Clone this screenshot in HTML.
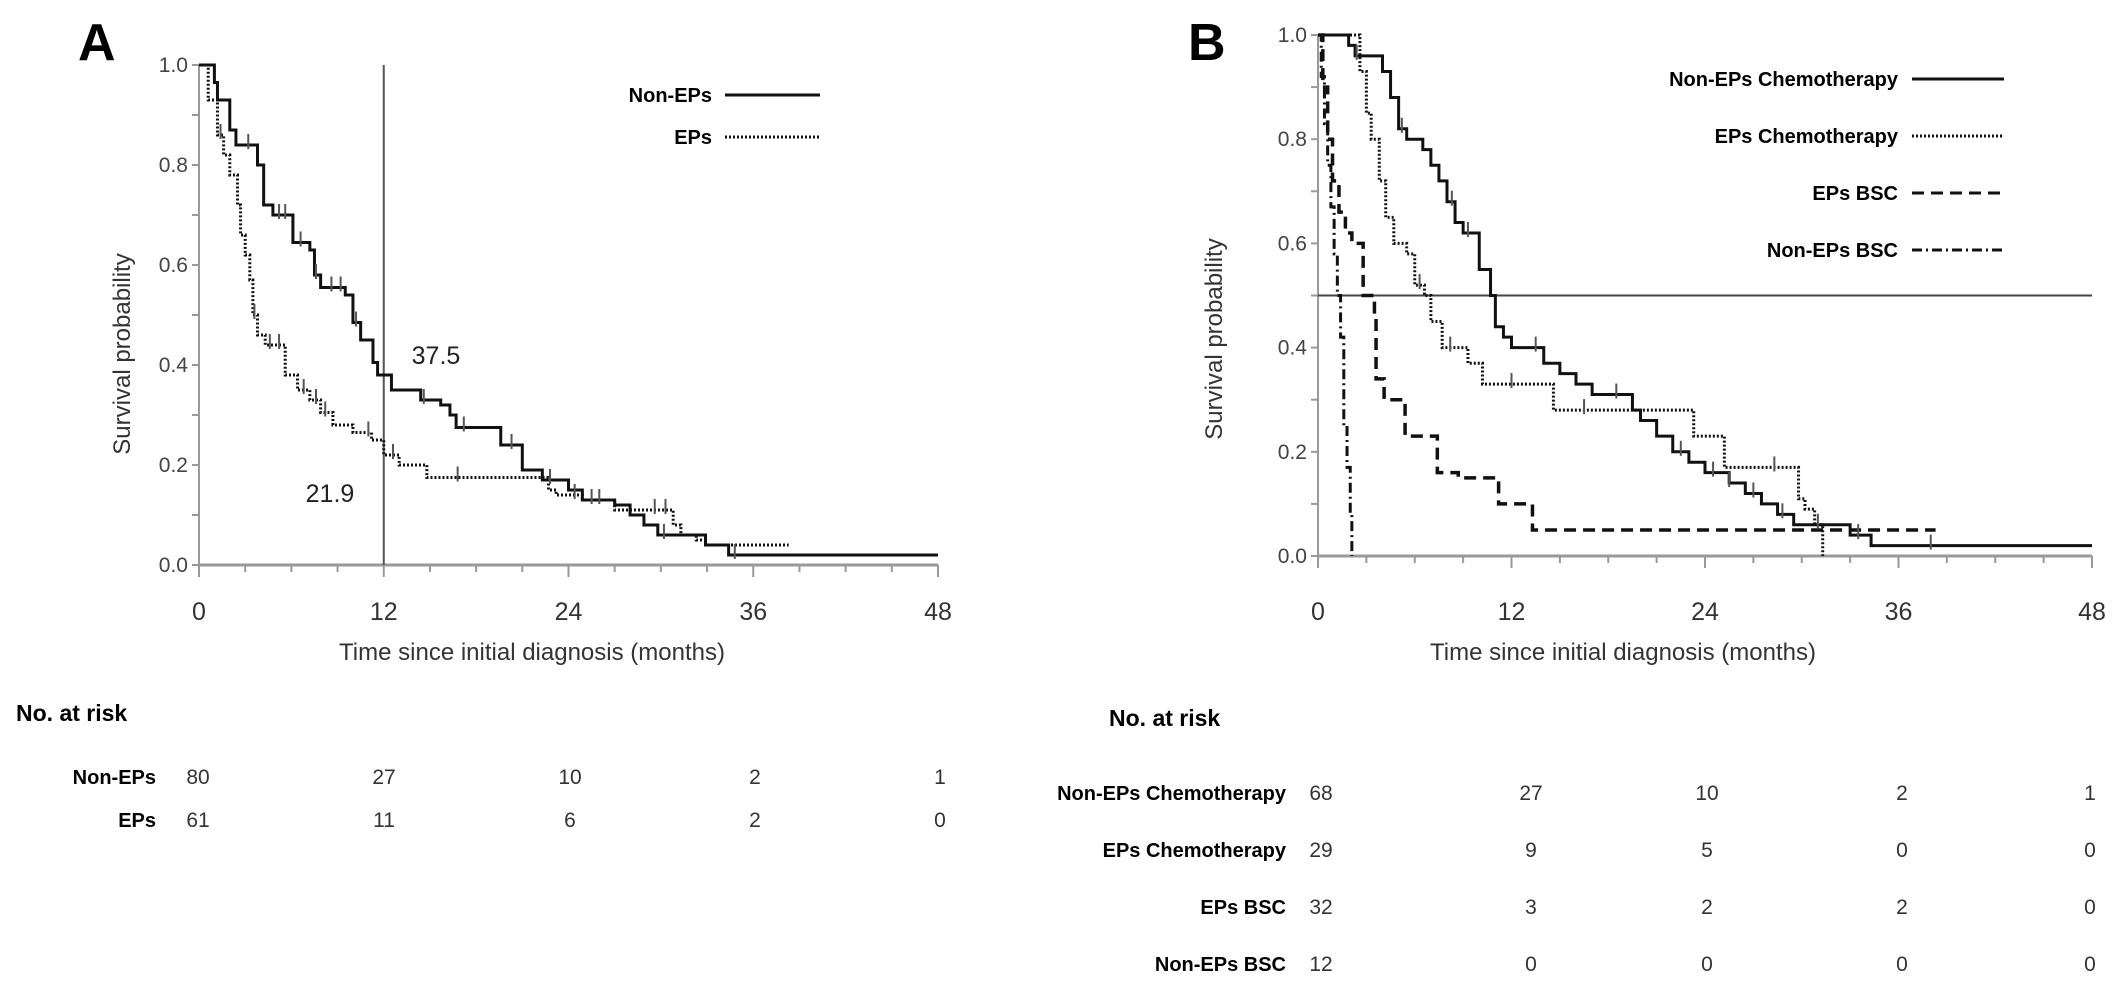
<!DOCTYPE html>
<html><head><meta charset="utf-8"><style>
body{margin:0;background:#fff}
svg{display:block;font-family:"Liberation Sans",Arial,sans-serif}
</style></head><body>
<svg id="chart" width="2126" height="992" viewBox="0 0 2126 992">
<g id="gA"></g>
<g id="gB"></g>
</svg>
<script>
// ---------- Data ----------
const xTicks = [0, 12, 24, 36, 48];
const yTicks = [0.0, 0.2, 0.4, 0.6, 0.8, 1.0];
const yTickLabels = ["0.0", "0.2", "0.4", "0.6", "0.8", "1.0"];

const aNonEPsT = [0,1.0,1.2,2.0,2.4,3.8,4.2,4.8,6.1,7.2,7.5,7.9,9.5,10,10.5,11.3,11.6,12.5,14.4,15.7,16.3,16.7,19.6,21,22.3,24,24.9,27,28,28.9,29.8,32.9,34.4];
const aNonEPsP = [1,0.965,0.93,0.87,0.84,0.80,0.72,0.70,0.645,0.63,0.58,0.555,0.54,0.485,0.45,0.405,0.38,0.35,0.33,0.32,0.30,0.275,0.24,0.19,0.17,0.15,0.13,0.12,0.10,0.08,0.06,0.04,0.02];
const aNonEPsEnd = 48;
const aEPsT = [0,0.6,1.2,1.6,2.0,2.5,2.7,3.0,3.3,3.5,3.8,4.3,5.6,6.4,7.2,7.9,8.7,10,11.2,12,13,14.8,22.7,23.2,24.9,27,30.8,31.3,32.3,32.9];
const aEPsP = [1,0.93,0.86,0.82,0.78,0.72,0.66,0.62,0.57,0.50,0.46,0.44,0.38,0.35,0.33,0.305,0.28,0.265,0.25,0.22,0.20,0.175,0.15,0.14,0.13,0.11,0.08,0.06,0.05,0.04];
const aEPsEnd = 38.3;
const aNonEPsCens = [3.2,5.2,5.6,6.6,7.6,8.6,9.2,10.2,14.6,17.2,20.3,22.8,25.5,30.2,34.8];
const aEPsCens = [1.4,3.6,4.6,5.2,6.8,7.6,8.2,11.0,12.6,16.8,24.4,26.0,29.6,30.3];
const aMedianLine = 12;
const aMedianLabels = ["37.5", "21.9"];

const bNCT = [0,1.9,2.3,2.5,4,4.5,5,5.5,6.5,7,7.5,8,8.5,9,10,10.7,11,11.5,12,14,15,16,17,19.5,20,21,22,23,24,25.5,26.5,27.5,28.5,29.5,33,34.3];
const bNCP = [1,0.98,0.96,0.96,0.93,0.88,0.82,0.80,0.78,0.75,0.72,0.68,0.64,0.62,0.55,0.50,0.44,0.42,0.40,0.37,0.35,0.33,0.31,0.28,0.26,0.23,0.20,0.18,0.16,0.14,0.12,0.10,0.08,0.06,0.04,0.02];
const bNCEnd = 48;
const bECT = [0,2.5,2.6,3,3.3,3.8,4.2,4.7,5.5,6,6.6,7,7.7,9.3,10.2,14.6,23.3,25.2,29.8,30.2,30.8,31.3];
const bECP = [1,1,0.93,0.85,0.80,0.72,0.65,0.60,0.58,0.52,0.50,0.45,0.40,0.37,0.33,0.28,0.23,0.17,0.11,0.09,0.06,0.0];
const bECEnd = 31.3;
const bEBT = [0,0.3,0.6,0.9,1.3,1.7,2.1,2.8,3.5,3.6,4.1,5.4,7.4,8.7,11.2,13.3];
const bEBP = [1,0.9,0.8,0.72,0.66,0.62,0.6,0.5,0.46,0.34,0.30,0.23,0.16,0.15,0.10,0.05];
const bEBEnd = 38.3;
const bNBT = [0,0.2,0.4,0.6,0.8,1.0,1.2,1.4,1.6,1.8,2.0,2.1];
const bNBP = [1,0.92,0.83,0.75,0.67,0.58,0.5,0.42,0.25,0.17,0.08,0.0];
const bNBEnd = 2.1;
const bNCCens = [2.4,5.2,8.3,9.3,13.5,18.5,22.5,24.5,25.5,27.0,28.8,31.0,33.5,38.0];
const bECCens = [6.3,8.2,12.0,16.5,28.3];
const bMedianP = 0.5;

// ---------- Helpers ----------
const NS = "http://www.w3.org/2000/svg";
function el(tag, attrs, parent, txt){const e=document.createElementNS(NS,tag);for(const k in attrs)e.setAttribute(k,attrs[k]);if(txt!==undefined)e.textContent=txt;parent.appendChild(e);return e;}
function makeAxes(x0,x1,y1,y0){return {x:m=>x0+(m/48)*(x1-x0), y:p=>y0-p*(y0-y1), x0,x1,y0,y1};}
function stepPath(ax,T,P,end){let d=`M${ax.x(T[0])},${ax.y(P[0])}`;for(let i=1;i<T.length;i++){d+=` H${ax.x(T[i])} V${ax.y(P[i])}`;}d+=` H${ax.x(end)}`;return d;}
function valAt(T,P,t){let v=P[0];for(let i=0;i<T.length;i++){if(T[i]<=t)v=P[i];}return v;}
function drawAxes(g,ax,pfx){
  el('line',{x1:ax.x0,y1:ax.y0,x2:ax.x1,y2:ax.y0,stroke:'#999','stroke-width':3},g);
  el('line',{x1:ax.x0,y1:ax.y0,x2:ax.x0,y2:ax.y1,stroke:'#999','stroke-width':2},g);
  for(let m=0;m<=48;m+=3){const major=m%12===0;el('line',{x1:ax.x(m),x2:ax.x(m),y1:ax.y0,y2:ax.y0+(major?12:7),stroke:'#999','stroke-width':2},g);}
  xTicks.forEach(m=>{const t=el('text',{x:ax.x(m),y:620,'text-anchor':'middle','font-size':25,fill:'#333'},g,String(m));});
  for(let p=0;p<=1.0001;p+=0.1){el('line',{x1:ax.x0-7,x2:ax.x0,y1:ax.y(p),y2:ax.y(p),stroke:'#999','stroke-width':2},g);}
  yTicks.forEach((p,i)=>{const t=el('text',{x:ax.x0-11,y:ax.y(p)+7,'text-anchor':'end','font-size':21,fill:'#444'},g,yTickLabels[i]);});
}
function series(g,ax,T,P,end,dash,w,name){const p=el('path',{d:stepPath(ax,T,P,end),fill:'none',stroke:'#111','stroke-width':w,'stroke-dasharray':dash},g);}
function cens(g,ax,T,P,C,name){C.forEach(t=>{const v=valAt(T,P,t);const l=el('line',{x1:ax.x(t),x2:ax.x(t),y1:ax.y(v)-11,y2:ax.y(v)+4,stroke:'#555','stroke-width':2},g);});}

// ---------- Panel A ----------
const gA=document.getElementById('gA');
const A=makeAxes(199,938,65,565);
el('text',{x:78,y:60,'font-size':52,'font-weight':'bold'},gA,'A');
drawAxes(gA,A,'a');
el('text',{x:0,y:0,'font-size':24,fill:'#333','text-anchor':'middle',transform:`translate(130,354) rotate(-90)`},gA,'Survival probability');
el('text',{x:532,y:660,'font-size':24,fill:'#333','text-anchor':'middle'},gA,'Time since initial diagnosis (months)');
el('line',{x1:A.x(aMedianLine),x2:A.x(aMedianLine),y1:A.y1,y2:A.y0,stroke:'#555','stroke-width':2},gA);
series(gA,A,aEPsT,aEPsP,aEPsEnd,'2,2',3,'a-eps-curve');
series(gA,A,aNonEPsT,aNonEPsP,aNonEPsEnd,'none',3,'a-non-eps-curve');
cens(gA,A,aNonEPsT,aNonEPsP,aNonEPsCens,'a-non-eps-censor');
cens(gA,A,aEPsT,aEPsP,aEPsCens,'a-eps-censor');
el('text',{x:436,y:364,'font-size':25,fill:'#222','text-anchor':'middle'},gA,aMedianLabels[0]);
el('text',{x:330,y:502,'font-size':25,fill:'#222','text-anchor':'middle'},gA,aMedianLabels[1]);
el('text',{x:712,y:102,'font-size':20,'font-weight':'bold','text-anchor':'end'},gA,'Non-EPs');
el('line',{x1:725,x2:820,y1:95,y2:95,stroke:'#111','stroke-width':3},gA);
el('text',{x:712,y:144,'font-size':20,'font-weight':'bold','text-anchor':'end'},gA,'EPs');
el('line',{x1:725,x2:820,y1:137,y2:137,stroke:'#111','stroke-width':3,'stroke-dasharray':'2,2'},gA);

// ---------- Panel B ----------
const gB=document.getElementById('gB');
const B=makeAxes(1318,2092,35,556);
el('text',{x:1188,y:60,'font-size':52,'font-weight':'bold'},gB,'B');
drawAxes(gB,B,'b');
el('text',{x:0,y:0,'font-size':24,fill:'#333','text-anchor':'middle',transform:`translate(1222,339) rotate(-90)`},gB,'Survival probability');
el('text',{x:1623,y:660,'font-size':24,fill:'#333','text-anchor':'middle'},gB,'Time since initial diagnosis (months)');
el('line',{x1:B.x0,x2:B.x1,y1:B.y(bMedianP),y2:B.y(bMedianP),stroke:'#444','stroke-width':2},gB);
series(gB,B,bNBT,bNBP,bNBEnd,'10,4,2,4',3,'b-non-eps-bsc-curve');
series(gB,B,bEBT,bEBP,bEBEnd,'12,7',3.5,'b-eps-bsc-curve');
series(gB,B,bECT,bECP,bECEnd,'2,2',3,'b-eps-chemo-curve');
series(gB,B,bNCT,bNCP,bNCEnd,'none',3,'b-non-eps-chemo-curve');
cens(gB,B,bNCT,bNCP,bNCCens,'b-non-eps-chemo-censor');
cens(gB,B,bECT,bECP,bECCens,'b-eps-chemo-censor');
const legB=[['Non-EPs Chemotherapy','none',86],['EPs Chemotherapy','2,2',143],['EPs BSC','12,7',200],['Non-EPs BSC','10,4,2,4',257]];
legB.forEach(l=>{const t=el('text',{x:1898,y:l[2],'font-size':20,'font-weight':'bold','text-anchor':'end'},gB,l[0]);el('line',{x1:1912,x2:2004,y1:l[2]-7,y2:l[2]-7,stroke:'#111','stroke-width':3,'stroke-dasharray':l[1]},gB);});

// ---------- Risk tables ----------
const riskAGroups=['Non-EPs','EPs'];
const riskA=[[80,27,10,2,1],[61,11,6,2,0]];
const riskAX=[198,384,570,755,940];
const riskAY=[784,827];
const riskBGroups=['Non-EPs Chemotherapy','EPs Chemotherapy','EPs BSC','Non-EPs BSC'];
const riskB=[[68,27,10,2,1],[29,9,5,0,0],[32,3,2,2,0],[12,0,0,0,0]];
const riskBX=[1321,1531,1707,1902,2090];
const riskBY=[800,857,914,971];
const gR=el('g',{},document.getElementById('chart'));
el('text',{x:16,y:721,'font-size':23,'font-weight':'bold'},gR,'No. at risk');
el('text',{x:1109,y:726,'font-size':23,'font-weight':'bold'},gR,'No. at risk');
riskAGroups.forEach((g,i)=>{el('text',{x:156,y:riskAY[i],'font-size':20,'font-weight':'bold','text-anchor':'end'},gR,g);riskA[i].forEach((v,j)=>el('text',{x:riskAX[j],y:riskAY[i],'font-size':21,'text-anchor':'middle',fill:'#333'},gR,String(v)));});
riskBGroups.forEach((g,i)=>{el('text',{x:1286,y:riskBY[i],'font-size':20,'font-weight':'bold','text-anchor':'end'},gR,g);riskB[i].forEach((v,j)=>el('text',{x:riskBX[j],y:riskBY[i],'font-size':21,'text-anchor':'middle',fill:'#333'},gR,String(v)));});
</script>
</body></html>
